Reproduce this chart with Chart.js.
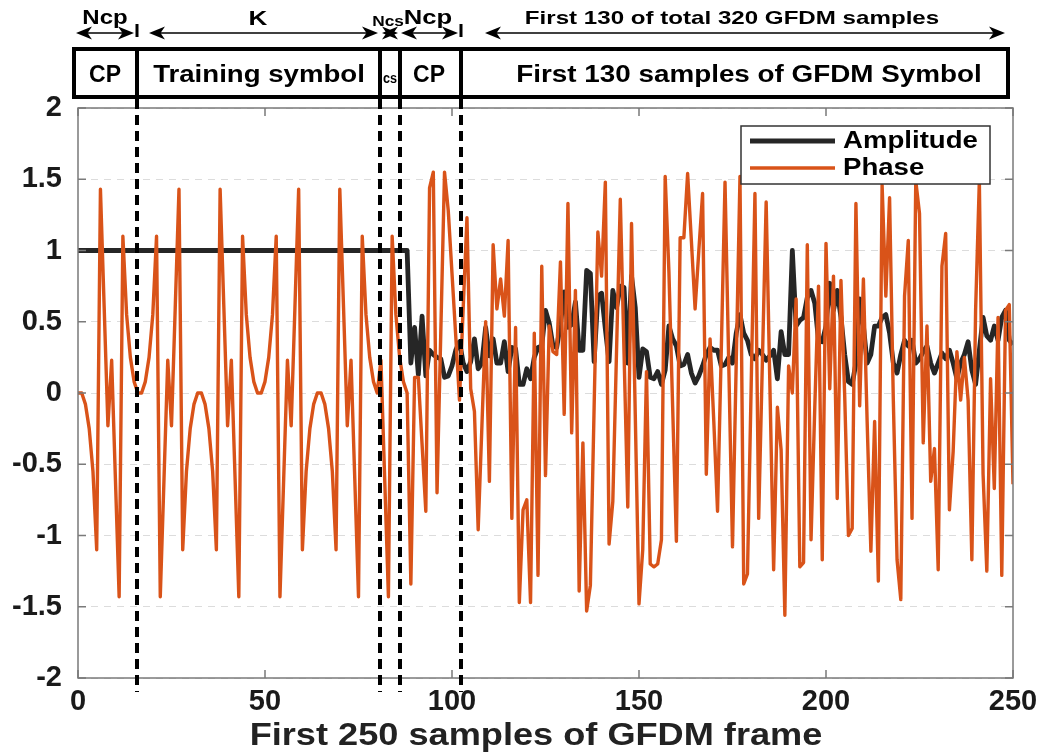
<!DOCTYPE html>
<html><head><meta charset="utf-8">
<script src="https://cdn.jsdelivr.net/npm/chart.js@4.4.1/dist/chart.umd.min.js"></script>
<style>html,body{margin:0;padding:0;background:#fff}canvas{display:block}</style>
</head><body>
<canvas id="c" width="1045" height="753"></canvas>
<script>
// ---- data ----
const phase = [
 0, 0, -0.08, -0.25, -0.55, -1.1, 1.43, 0.6, -0.23, 0.23, -0.6, -1.43, 1.1, 0.55, 0.25, 0.08,
 0, 0, 0.08, 0.25, 0.55, 1.1, -1.43, -0.6, 0.23, -0.23, 0.6, 1.43, -1.1, -0.55, -0.25, -0.08,
 0, 0, -0.08, -0.25, -0.55, -1.1, 1.43, 0.6, -0.23, 0.23, -0.6, -1.43, 1.1, 0.55, 0.25, 0.08,
 0, 0, 0.08, 0.25, 0.55, 1.1, -1.43, -0.6, 0.23, -0.23, 0.6, 1.43, -1.1, -0.55, -0.25, -0.08,
 0, 0, -0.08, -0.25, -0.55, -1.1, 1.43, 0.6, -0.23, 0.23, -0.6, -1.43, 1.1, 0.55, 0.25, 0.08,
 0, 0.23, -0.6, -1.43, 1.1, 0.55, 0.25, 0.08, 0, -1.34, 0.11, 0.11, -0.36, -0.83, 1.44, 1.55,
 -0.70, 0.42, 1.55, 1.28, 0.84, 0.40, -0.05, 0.6, 1.23, 0.03, -0.13, -0.96, -0.23, 0.50, -0.62, 1.04,
 0.59, 0.80, 0.54, 1.07, -0.88, 0.46, -1.47, -0.82, -0.75, -1.47, 0.42, -1.28, 0.89, -0.58, 0.47, 0.29,
 0.27, 0.92, -0.15, 1.33, -0.28, 0.72, -1.39, -0.35, -1.53, -1.35, -0.1, 1.13, 0.82, 1.48, -1.06, -0.76,
 0.3, 1.36, 0.28, -0.80, 1.19, -0.15, -1.48, -1.1, 0.15, -1.2, -1.22, -1.2, -1.03, 1.52, 0.85, -0.1,
 -1.04, 1.09, 1.09, 1.54, 1.07, 0.59, 1.0, 1.40, -0.57, 0.38, -0.2, -0.83, 0.3, 1.48, 0.2, -1.08,
 0.22, 1.52, -1.34, -1.27, 0.06, 1.40, -0.88, 0.23, 1.34, 0.05, -1.24, -0.1, -0.4, -1.56, 0.19, 0.0,
 0.66, -1.22, -1.19, 1.04, -1.03, -0.1, 0.75, -1.17, 1.05, 0.03, 0.82, -0.74, 0.79, -0.02, -1.0, -0.95,
 1.33, -0.09, 0.8, -0.2, -1.11, -0.2, -1.32, 1.46, 0.68, 1.37, -0.05, -1.17, -1.45, 0.68, 1.07, -0.88,
 1.49, 1.26, -0.35, 0.47, -0.62, -0.39, -1.24, 0.89, 1.12, -0.82, -0.41, 0.29, -0.05, 0.25, -0.05, -1.17,
 0.58, 1.49, -0.57, -1.25, 0.1, -0.67, 0.53, -1.28, 0.58, 0.62, -0.64
];
const amplitude = [
 1, 1, 1, 1, 1, 1, 1, 1, 1, 1, 1, 1, 1, 1, 1, 1,
 1, 1, 1, 1, 1, 1, 1, 1, 1, 1, 1, 1, 1, 1, 1, 1,
 1, 1, 1, 1, 1, 1, 1, 1, 1, 1, 1, 1, 1, 1, 1, 1,
 1, 1, 1, 1, 1, 1, 1, 1, 1, 1, 1, 1, 1, 1, 1, 1,
 1, 1, 1, 1, 1, 1, 1, 1, 1, 1, 1, 1, 1, 1, 1, 1,
 1, 1, 1, 1, 1, 1, 1, 1, 1,
 0.21, 0.46, 0.13, 0.54, 0.12, 0.3, 0.27, 0.25, 0.24, 0.11, 0.12, 0.19, 0.3, 0.36, 0.21, 0.15,
 0.22, 0.38, 0.17, 0.21, 0.46, 0.26, 0.38, 0.21, 0.21, 0.36, 0.15, 0.32, 0.31, 0.06, 0.06, 0.17,
 0.1, 0.25, 0.32, 0.33, 0.58, 0.49, 0.33, 0.32, 0.48, 0.71, 0.46, 0.48, 0.64, 0.3, 0.3, 0.86,
 0.84, 0.22, 0.68, 0.7, 0.45, 0.22, 0.72, 0.6, 0.75, 0.74, 0.21, 0.82, 0.6, 0.11, 0.31, 0.29,
 0.11, 0.1, 0.15, 0.06, 0.16, 0.47, 0.38, 0.33, 0.19, 0.2, 0.27, 0.14, 0.07, 0.12, 0.19, 0.27,
 0.32, 0.3, 0.3, 0.19, 0.2, 0.25, 0.21, 0.42, 0.55, 0.42, 0.37, 0.27, 0.24, 0.3, 0.27, 0.23,
 0.26, 0.3, 0.1, 0.43, 0.27, 0.27, 1.0, 0.47, 0.51, 0.53, 0.67, 0.72, 0.63, 0.37, 0.36, 0.47,
 0.77, 0.58, 0.72, 0.53, 0.27, 0.08, 0.06, 0.21, 0.66, 0.47, 0.21, 0.27, 0.47, 0.47, 0.53, 0.55,
 0.42, 0.21, 0.14, 0.27, 0.37, 0.33, 0.37, 0.21, 0.24, 0.29, 0.33, 0.21, 0.14, 0.21, 0.28, 0.24,
 0.3, 0.21, 0.1, 0.21, 0.27, 0.36, 0.16, 0.06, 0.3, 0.53, 0.4, 0.37, 0.47, 0.37, 0.53, 0.58,
 0.37, 0.34
];
const seriesNames = ['Amplitude', 'Phase'];
const xTickLabels = ['0', '50', '100', '150', '200', '250'];
const yTickLabels = ['-2', '-1.5', '-1', '-0.5', '0', '0.5', '1', '1.5', '2'];
const segmentBounds = [15.8, 80.8, 86.2, 102.4];      // dashed separators (sample index)
const arrowLabels = ['Ncp', 'K', 'Ncs', 'Ncp', 'First 130 of total 320 GFDM samples'];
const boxLabels = ['CP', 'Training symbol', 'cs', 'CP', 'First 130 samples of GFDM Symbol'];
const xTitle = 'First 250 samples of GFDM frame';

const FONT = "'Liberation Sans', Arial, Helvetica, sans-serif";
const toPts = arr => arr.map((v, i) => ({x: i, y: v}));

// ---- decorations plugin ----
function arrowHead(ctx, tipX, y, dir) {
  const L = 16, H = 6.5;
  ctx.beginPath();
  ctx.moveTo(tipX, y);
  ctx.lineTo(tipX - dir * L, y - H);
  ctx.lineTo(tipX - dir * L * 0.72, y);
  ctx.lineTo(tipX - dir * L, y + H);
  ctx.closePath();
  ctx.fill();
}
function dblArrow(ctx, x1, x2, y) {
  ctx.beginPath(); ctx.moveTo(x1 + 6, y); ctx.lineTo(x2 - 6, y); ctx.stroke();
  arrowHead(ctx, x1, y, -1);
  arrowHead(ctx, x2, y, 1);
}
function stretchText(ctx, txt, cx, cy, sx) {
  ctx.save(); ctx.translate(cx, cy); ctx.scale(sx, 1); ctx.fillText(txt, 0, 0); ctx.restore();
}

const deco = {
  id: 'deco',
  afterDatasetsDraw(chart) {
    const {ctx, chartArea: a, scales: {x, y}} = chart;
    ctx.save();
    // axis box
    ctx.strokeStyle = '#7a7a7a'; ctx.lineWidth = 1.5; ctx.setLineDash([]);
    ctx.strokeRect(a.left, a.top, a.right - a.left, a.bottom - a.top);
    // inward ticks
    ctx.beginPath();
    x.ticks.forEach(t => {
      const px = x.getPixelForValue(t.value);
      ctx.moveTo(px, a.bottom); ctx.lineTo(px, a.bottom - 8);
      ctx.moveTo(px, a.top); ctx.lineTo(px, a.top + 8);
    });
    y.ticks.forEach(t => {
      const py = y.getPixelForValue(t.value);
      ctx.moveTo(a.left, py); ctx.lineTo(a.left + 8, py);
      ctx.moveTo(a.right, py); ctx.lineTo(a.right - 8, py);
    });
    ctx.stroke();
    // dashed separators
    ctx.strokeStyle = '#000'; ctx.lineWidth = 4; ctx.setLineDash([10, 6]);
    segmentBounds.forEach(b => {
      const px = Math.round(x.getPixelForValue(b));
      ctx.beginPath(); ctx.moveTo(px, 99); ctx.lineTo(px, 692); ctx.stroke();
    });
    ctx.setLineDash([]);
    ctx.restore();
  },
  afterDraw(chart) {
    const {ctx, chartArea: a, scales: {x}} = chart;
    const bx = segmentBounds.map(b => Math.round(x.getPixelForValue(b)));
    ctx.save();
    // x-axis title
    ctx.fillStyle = '#222'; ctx.textAlign = 'center'; ctx.textBaseline = 'alphabetic';
    ctx.font = `bold 32px ${FONT}`;
    stretchText(ctx, xTitle, 536, 745, 1.13);
    // header boxes
    ctx.strokeStyle = '#000'; ctx.lineWidth = 4;
    const boxL = 74, boxR = 1008, boxT = 49, boxB = 97;
    ctx.strokeRect(boxL, boxT, boxR - boxL, boxB - boxT);
    bx.forEach(px => { ctx.beginPath(); ctx.moveTo(px, boxT); ctx.lineTo(px, boxB); ctx.stroke(); });
    // small end ticks above
    ctx.lineWidth = 3;
    [bx[0], bx[3]].forEach(px => { ctx.beginPath(); ctx.moveTo(px, 24); ctx.lineTo(px, 37); ctx.stroke(); });
    // arrows
    ctx.fillStyle = '#000'; ctx.lineWidth = 1.6;
    const ay = 33;
    dblArrow(ctx, boxL + 2, bx[0] - 3, ay);
    dblArrow(ctx, 149, bx[1] - 2, ay);
    arrowHead(ctx, bx[2] - 2, ay, 1);
    arrowHead(ctx, bx[1] + 2, ay, -1);
    dblArrow(ctx, bx[2] + 1, bx[3] - 3, ay);
    dblArrow(ctx, 485, 1005, ay);
    // arrow labels
    ctx.textAlign = 'center'; ctx.textBaseline = 'alphabetic';
    ctx.font = `bold 20px ${FONT}`;
    stretchText(ctx, arrowLabels[0], 105, 24, 1.2);
    stretchText(ctx, arrowLabels[1], 258, 25, 1.3);
    ctx.font = `bold 15px ${FONT}`;
    stretchText(ctx, arrowLabels[2], 388, 26, 1.15);
    ctx.font = `bold 20px ${FONT}`;
    stretchText(ctx, arrowLabels[3], 428, 24, 1.28);
    ctx.font = `bold 19px ${FONT}`;
    stretchText(ctx, arrowLabels[4], 732, 24, 1.27);
    // box labels
    ctx.font = `bold 23px ${FONT}`;
    stretchText(ctx, boxLabels[0], 105, 82, 1.0);
    stretchText(ctx, boxLabels[1], 259, 82, 1.2);
    ctx.font = `bold 14px ${FONT}`;
    stretchText(ctx, boxLabels[2], 390, 83, 0.9);
    ctx.font = `bold 23px ${FONT}`;
    stretchText(ctx, boxLabels[3], 429, 82, 1.0);
    stretchText(ctx, boxLabels[4], 749, 82, 1.21);
    // legend
    const lx = 741, ly = 126, lw = 249, lh = 58;
    ctx.fillStyle = '#fff'; ctx.fillRect(lx, ly, lw, lh);
    ctx.strokeStyle = '#333'; ctx.lineWidth = 1.5; ctx.strokeRect(lx, ly, lw, lh);
    const ds = chart.data.datasets;
    const rows = [{d: ds[1], yy: 141}, {d: ds[0], yy: 168}];
    rows.forEach(r => {
      ctx.strokeStyle = r.d.borderColor; ctx.lineWidth = r.d.borderWidth;
      ctx.beginPath(); ctx.moveTo(750, r.yy); ctx.lineTo(835, r.yy); ctx.stroke();
      ctx.fillStyle = '#000'; ctx.font = `bold 23px ${FONT}`; ctx.textAlign = 'left'; ctx.textBaseline = 'middle';
      ctx.save(); ctx.translate(843, r.yy + 1); ctx.scale(1.2, 1); ctx.fillText(r.d.label, 0, 0); ctx.restore();
    });
    ctx.restore();
  }
};

new Chart(document.getElementById('c'), {
  type: 'line',
  data: {
    datasets: [
      {label: seriesNames[1], data: toPts(phase), borderColor: '#D95319', borderWidth: 3.4,
       pointRadius: 0, tension: 0, borderJoinStyle: 'round', order: 0},
      {label: seriesNames[0], data: toPts(amplitude), borderColor: '#262626', borderWidth: 4.8,
       pointRadius: 0, tension: 0, borderJoinStyle: 'round', order: 1}
    ]
  },
  options: {
    responsive: false, animation: false, devicePixelRatio: 1,
    parsing: false, normalized: true,
    layout: {padding: {top: 108, right: 32, left: 0, bottom: 0}},
    plugins: {legend: {display: false}, tooltip: {enabled: false}},
    scales: {
      x: {
        type: 'linear', min: 0, max: 250,
        ticks: {stepSize: 50, color: '#1a1a1a', padding: 7, maxRotation: 0,
                font: {family: FONT, size: 29, weight: 'bold'},
                callback: (v, i) => xTickLabels[i]},
        grid: {display: false, drawTicks: false},
        border: {display: false},
        afterFit(s) { s.height = 75; }
      },
      y: {
        min: -2, max: 2,
        ticks: {stepSize: 0.5, color: '#1a1a1a', padding: 16,
                font: {family: FONT, size: 29, weight: 'bold'},
                callback: (v, i) => yTickLabels[i]},
        grid: {color: '#dcdcdc', lineWidth: 1, drawTicks: false},
        border: {display: false, dash: [7, 6]},
        afterFit(s) { s.width = 78; }
      }
    }
  },
  plugins: [deco]
});
</script>
</body></html>
